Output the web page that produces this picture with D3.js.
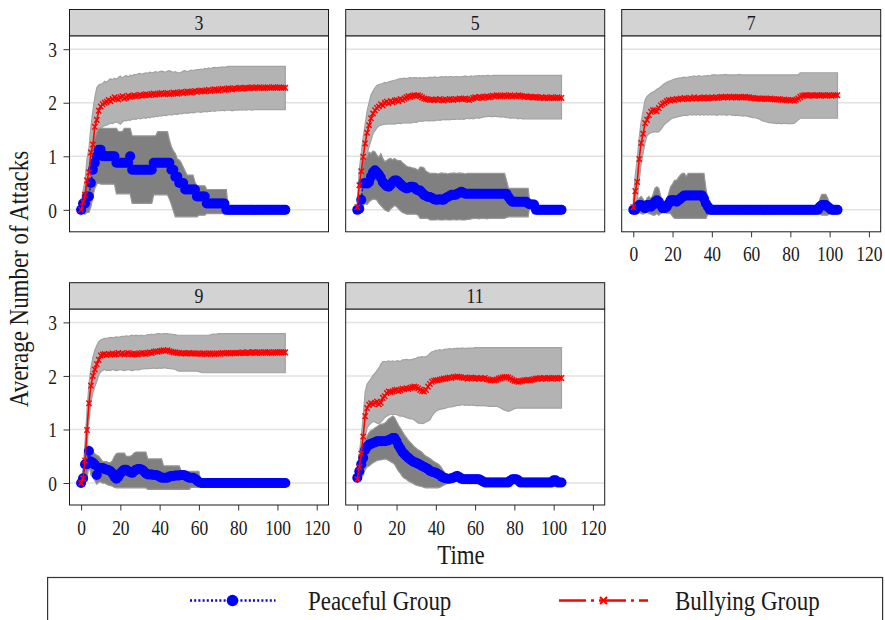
<!DOCTYPE html>
<html><head><meta charset="utf-8">
<script src="https://cdn.jsdelivr.net/npm/d3@7"></script>
<style>
body{margin:0;background:#fff}
text{font-family:"Liberation Serif","Times New Roman",serif;fill:#1a1a1a}
</style></head>
<body><svg id="c" width="885" height="620"></svg>
<script>
// ---------------- data ----------------
const times = d3.range(0, 105);
const panelLabels = ["3", "5", "7", "9", "11"];
const xTicks = [0, 20, 40, 60, 80, 100, 120];
const yTicks = [0, 1, 2, 3];
const seriesNames = ["Peaceful Group", "Bullying Group"];

// group size 3
const bully3 = [0.00,0.15,0.28,0.55,0.70,1.07,1.22,1.55,1.68,1.85, 1.93,1.97,2.00,2.02,2.05,2.03,2.07,2.10,2.08,2.06, 2.10,2.12,2.08,2.10,2.13,2.11,2.12,2.14,2.12,2.13, 2.15,2.13,2.14,2.16,2.15,2.14,2.16,2.17,2.15,2.16, 2.17,2.18,2.16,2.17,2.18,2.16,2.17,2.19,2.18,2.17, 2.19,2.20,2.18,2.19,2.21,2.20,2.19,2.21,2.22,2.20, 2.22,2.23,2.22,2.21,2.23,2.24,2.22,2.23,2.25,2.24, 2.23,2.25,2.26,2.24,2.25,2.27,2.26,2.25,2.27,2.26, 2.27,2.28,2.26,2.27,2.28,2.27,2.28,2.29,2.27,2.28, 2.28,2.29,2.28,2.27,2.28,2.29,2.28,2.28,2.29,2.28, 2.28,2.29,2.28,2.28,2.28];
const bully3Hi = [0.10,0.35,0.55,0.95,1.15,1.55,1.85,2.10,2.28,2.33, 2.35,2.36,2.40,2.38,2.42,2.45,2.43,2.46,2.44,2.47, 2.50,2.46,2.49,2.51,2.48,2.52,2.50,2.53,2.52,2.54, 2.55,2.53,2.55,2.56,2.55,2.57,2.56,2.57,2.58,2.57, 2.58,2.59,2.58,2.57,2.59,2.60,2.58,2.57,2.58,2.56, 2.56,2.57,2.59,2.60,2.58,2.59,2.61,2.60,2.61,2.62, 2.62,2.63,2.62,2.64,2.63,2.65,2.64,2.65,2.66,2.65, 2.66,2.66,2.67,2.66,2.67,2.68,2.68,2.68,2.68,2.68, 2.68,2.68,2.68,2.68,2.68,2.68,2.68,2.68,2.68,2.68, 2.68,2.68,2.68,2.68,2.68,2.68,2.68,2.68,2.68,2.68, 2.68,2.68,2.68,2.68,2.68];
const bully3Lo = [-0.08,-0.02,0.05,0.20,0.35,0.65,0.85,1.05,1.35,1.45, 1.50,1.55,1.57,1.58,1.60,1.62,1.61,1.63,1.64,1.62, 1.60,1.64,1.67,1.66,1.68,1.67,1.69,1.70,1.69,1.71, 1.70,1.71,1.72,1.71,1.73,1.72,1.74,1.73,1.75,1.74, 1.76,1.75,1.77,1.76,1.77,1.78,1.77,1.78,1.79,1.78, 1.80,1.79,1.80,1.81,1.80,1.81,1.82,1.81,1.82,1.83, 1.83,1.82,1.83,1.84,1.83,1.84,1.84,1.85,1.84,1.85, 1.85,1.85,1.86,1.85,1.86,1.86,1.86,1.85,1.86,1.86, 1.86,1.87,1.86,1.87,1.86,1.87,1.87,1.86,1.87,1.87, 1.87,1.87,1.87,1.87,1.87,1.87,1.87,1.87,1.87,1.87, 1.87,1.87,1.87,1.87,1.87];
const peace3 = [0,0.12,0.12,0.25,0.25,0.5,0.75,0.88,1,1.12, 1.12,1,1,1,1,1,1,1,0.88,0.88, 0.88,0.88,0.88,0.88,0.88,1,0.75,0.75,0.75,0.75, 0.75,0.75,0.75,0.75,0.75,0.75,0.75,0.88,0.88,0.88, 0.88,0.88,0.88,0.88,0.88,0.88,0.75,0.75,0.62,0.62, 0.5,0.5,0.5,0.38,0.38,0.38,0.38,0.38,0.38,0.25, 0.25,0.25,0.25,0.25,0.12,0.12,0.12,0.12,0.12,0.12, 0.12,0.12,0.12,0.12,0,0,0,0,0,0, 0,0,0,0,0,0,0,0,0,0, 0,0,0,0,0,0,0,0,0,0, 0,0,0,0,0];
const peace3Hi = [0.05,0.3,0.35,0.55,0.6,0.95,1.2,1.35,1.45,1.52, 1.52,1.52,1.52,1.52,1.52,1.52,1.52,1.52,1.52,1.46, 1.46,1.46,1.52,1.52,1.52,1.52,1.38,1.38,1.38,1.38, 1.38,1.38,1.38,1.38,1.38,1.38,1.38,1.38,1.38,1.46, 1.46,1.46,1.46,1.46,1.46,1.3,1.18,1.1,1.05,0.95, 0.93,0.88,0.8,0.72,0.65,0.65,0.65,0.65,0.52,0.45, 0.45,0.45,0.45,0.45,0.38,0.38,0.38,0.38,0.38,0.38, 0.38,0.38,0.38,0.38,0.38,0,0,0,0,0, 0,0,0,0,0,0,0,0,0,0, 0,0,0,0,0,0,0,0,0,0, 0,0,0,0,0];
const peace3Lo = [-0.05,-0.05,-0.08,-0.05,-0.05,0.05,0.25,0.4,0.48,0.5, 0.48,0.48,0.48,0.48,0.48,0.48,0.48,0.48,0.3,0.3, 0.3,0.3,0.3,0.3,0.3,0.3,0.12,0.12,0.12,0.12, 0.12,0.12,0.12,0.12,0.12,0.12,0.12,0.28,0.28,0.28, 0.28,0.28,0.28,0.28,0.28,0.2,0.1,-0.02,-0.13,-0.13, -0.13,-0.13,-0.13,-0.13,-0.13,-0.13,-0.13,-0.13,-0.13,-0.13, -0.1,-0.1,-0.1,-0.1,-0.07,-0.07,-0.07,-0.07,-0.07,-0.07, -0.07,-0.07,-0.07,-0.07,-0.07,0,0,0,0,0, 0,0,0,0,0,0,0,0,0,0, 0,0,0,0,0,0,0,0,0,0, 0,0,0,0,0];

// group size 5
const bully5 = [0.05,0.46,0.72,0.99,1.24,1.44,1.58,1.71,1.80,1.86, 1.90,1.93,1.97,1.95,2.00,2.02,1.99,2.03,2.01,2.04, 2.05,2.03,2.07,2.05,2.08,2.10,2.12,2.11,2.13,2.14, 2.13,2.14,2.12,2.10,2.08,2.07,2.06,2.05,2.06,2.05, 2.06,2.05,2.07,2.05,2.04,2.06,2.05,2.07,2.06,2.05, 2.07,2.06,2.08,2.07,2.07,2.08,2.06,2.05,2.07,2.09, 2.10,2.09,2.11,2.10,2.09,2.11,2.12,2.10,2.11,2.13, 2.12,2.14,2.13,2.12,2.13,2.14,2.12,2.13,2.14,2.12, 2.13,2.12,2.14,2.13,2.12,2.11,2.12,2.11,2.11,2.10, 2.10,2.11,2.10,2.09,2.10,2.09,2.10,2.09,2.09,2.10, 2.09,2.09,2.10,2.09,2.09];
const bully5Hi = [0.15,0.75,1.05,1.35,1.60,1.85,2.00,2.15,2.22,2.28, 2.32,2.34,2.35,2.36,2.38,2.37,2.39,2.40,2.41,2.42, 2.43,2.44,2.45,2.45,2.46,2.45,2.46,2.47,2.46,2.47, 2.47,2.46,2.47,2.46,2.47,2.46,2.47,2.48,2.47,2.48, 2.48,2.47,2.48,2.49,2.48,2.49,2.48,2.49,2.49,2.48, 2.49,2.49,2.48,2.49,2.49,2.50,2.49,2.49,2.50,2.49, 2.50,2.50,2.51,2.50,2.51,2.50,2.51,2.51,2.50,2.51, 2.51,2.51,2.51,2.51,2.51,2.51,2.51,2.51,2.51,2.51, 2.51,2.51,2.51,2.51,2.51,2.51,2.51,2.51,2.51,2.51, 2.51,2.51,2.51,2.51,2.51,2.51,2.51,2.51,2.51,2.51, 2.51,2.51,2.51,2.51,2.51];
const bully5Lo = [-0.05,0.17,0.40,0.65,0.90,1.05,1.18,1.30,1.42,1.48, 1.53,1.57,1.58,1.59,1.60,1.60,1.61,1.60,1.61,1.60, 1.61,1.62,1.61,1.62,1.63,1.62,1.63,1.62,1.63,1.64, 1.63,1.65,1.66,1.65,1.66,1.67,1.66,1.66,1.67,1.66, 1.67,1.68,1.67,1.68,1.69,1.68,1.69,1.68,1.69,1.69, 1.69,1.70,1.69,1.70,1.69,1.70,1.71,1.70,1.71,1.70, 1.71,1.72,1.71,1.72,1.73,1.74,1.74,1.75,1.74,1.74, 1.75,1.74,1.74,1.73,1.74,1.73,1.72,1.72,1.71,1.72, 1.71,1.71,1.70,1.71,1.70,1.70,1.70,1.70,1.70,1.70, 1.70,1.70,1.70,1.70,1.70,1.70,1.70,1.70,1.70,1.70, 1.70,1.70,1.70,1.70,1.70];
const peace5 = [0.00,0.02,0.19,0.49,0.50,0.49,0.52,0.62,0.70,0.74, 0.70,0.66,0.60,0.52,0.48,0.44,0.43,0.47,0.52,0.55, 0.55,0.52,0.48,0.44,0.42,0.40,0.41,0.43,0.43,0.42, 0.38,0.36,0.36,0.32,0.28,0.26,0.24,0.24,0.22,0.20, 0.19,0.19,0.20,0.19,0.19,0.22,0.24,0.26,0.28,0.28, 0.28,0.30,0.32,0.34,0.32,0.30,0.30,0.30,0.30,0.30, 0.30,0.30,0.30,0.30,0.30,0.30,0.30,0.30,0.30,0.30, 0.30,0.30,0.30,0.30,0.30,0.30,0.30,0.24,0.19,0.15, 0.15,0.15,0.15,0.15,0.15,0.15,0.15,0.12,0.10,0.10, 0.10,0,0,0,0,0,0,0,0,0, 0,0,0,0,0];
const peace5Hi = [0.02,0.10,0.45,0.90,0.95,1.00,1.08,1.05,1.10,1.08, 1.02,0.98,1.05,0.96,0.90,0.92,0.95,0.96,0.93,0.96, 0.93,0.92,0.92,0.88,0.85,0.82,0.80,0.80,0.78,0.78, 0.76,0.74,0.80,0.80,0.78,0.72,0.70,0.68,0.68,0.68, 0.68,0.67,0.68,0.69,0.68,0.68,0.67,0.68,0.68,0.69, 0.68,0.68,0.69,0.68,0.68,0.67,0.68,0.68,0.68,0.68, 0.68,0.68,0.68,0.68,0.68,0.68,0.68,0.68,0.68,0.68, 0.68,0.68,0.68,0.68,0.68,0.68,0.55,0.40,0.40,0.40, 0.40,0.40,0.40,0.40,0.40,0.40,0.40,0.40,0.10,0.10, 0.10,0,0,0,0,0,0,0,0,0, 0,0,0,0,0];
const peace5Lo = [-0.02,-0.05,-0.05,0.08,0.12,0.10,0.15,0.18,0.20,0.20, 0.18,0.12,0.08,0.04,0.00,-0.02,-0.03,0.02,0.05,0.08, 0.06,0.02,-0.02,-0.05,-0.06,-0.08,-0.08,-0.08,-0.08,-0.08, -0.08,-0.10,-0.16,-0.16,-0.16,-0.16,-0.16,-0.19,-0.19,-0.19, -0.19,-0.18,-0.19,-0.19,-0.19,-0.18,-0.19,-0.19,-0.19,-0.18, -0.19,-0.19,-0.18,-0.19,-0.19,-0.19,-0.18,-0.18,-0.17,-0.16, -0.16,-0.16,-0.17,-0.16,-0.16,-0.16,-0.17,-0.16,-0.16,-0.16, -0.16,-0.16,-0.16,-0.16,-0.16,-0.16,-0.14,-0.13,-0.13,-0.13, -0.13,-0.13,-0.13,-0.13,-0.13,-0.13,-0.13,-0.13,0.10,0.10, 0.10,0,0,0,0,0,0,0,0,0, 0,0,0,0,0];

// group size 7
const bully7 = [0.05,0.35,0.52,0.95,1.25,1.42,1.62,1.68,1.77,1.83, 1.86,1.86,1.84,1.90,1.95,1.98,2.00,2.03,2.05,2.04, 2.06,2.05,2.07,2.06,2.08,2.07,2.09,2.08,2.07,2.09, 2.08,2.10,2.08,2.09,2.08,2.09,2.10,2.09,2.08,2.09, 2.10,2.09,2.10,2.09,2.10,2.11,2.10,2.11,2.10,2.11, 2.10,2.11,2.10,2.10,2.11,2.10,2.10,2.11,2.10,2.10, 2.09,2.09,2.08,2.08,2.08,2.07,2.08,2.08,2.07,2.07, 2.08,2.07,2.06,2.06,2.07,2.06,2.05,2.06,2.05,2.05, 2.04,2.05,2.04,2.06,2.08,2.11,2.13,2.14,2.14,2.13, 2.14,2.14,2.13,2.14,2.14,2.13,2.14,2.14,2.13,2.14, 2.14,2.13,2.14,2.14,2.14];
const bully7Hi = [0.20,0.65,0.95,1.35,1.65,1.85,2.05,2.12,2.15,2.18, 2.20,2.22,2.25,2.27,2.30,2.33,2.36,2.38,2.40,2.41, 2.43,2.44,2.45,2.46,2.46,2.47,2.48,2.47,2.48,2.49, 2.49,2.50,2.49,2.50,2.50,2.49,2.50,2.50,2.51,2.50, 2.52,2.52,2.52,2.51,2.52,2.52,2.52,2.53,2.52,2.52, 2.52,2.52,2.52,2.52,2.53,2.52,2.52,2.52,2.52,2.52, 2.52,2.52,2.52,2.52,2.52,2.52,2.52,2.52,2.52,2.52, 2.52,2.52,2.52,2.52,2.52,2.52,2.52,2.52,2.52,2.52, 2.52,2.52,2.52,2.52,2.52,2.56,2.56,2.56,2.56,2.56, 2.56,2.56,2.56,2.56,2.56,2.56,2.56,2.56,2.56,2.56, 2.56,2.56,2.56,2.56,2.56];
const bully7Lo = [-0.05,0.05,0.15,0.55,0.85,1.05,1.25,1.38,1.42,1.44, 1.45,1.46,1.45,1.46,1.50,1.55,1.60,1.63,1.66,1.69, 1.71,1.72,1.73,1.74,1.75,1.76,1.77,1.76,1.77,1.78, 1.77,1.78,1.77,1.78,1.77,1.78,1.77,1.78,1.77,1.78, 1.77,1.78,1.77,1.77,1.78,1.77,1.78,1.77,1.77,1.78, 1.77,1.77,1.76,1.77,1.76,1.76,1.75,1.76,1.75,1.74, 1.73,1.72,1.72,1.71,1.70,1.68,1.66,1.65,1.64,1.63, 1.63,1.62,1.62,1.61,1.62,1.61,1.61,1.62,1.61,1.61, 1.61,1.61,1.62,1.65,1.68,1.71,1.71,1.71,1.71,1.71, 1.71,1.71,1.71,1.71,1.71,1.71,1.71,1.71,1.71,1.71, 1.71,1.71,1.71,1.71,1.71];
const peace7 = [0,0,0.06,0.09,0.09,0.06,0.03,0.09,0.09,0.06, 0.09,0.15,0.18,0.15,0.09,0.03,0.03,0.06,0.12,0.18, 0.18,0.18,0.15,0.18,0.21,0.24,0.27,0.27,0.27,0.27, 0.27,0.27,0.27,0.27,0.27,0.27,0.21,0.12,0.06,0, 0,0,0,0,0,0,0,0,0,0, 0,0,0,0,0,0,0,0,0,0, 0,0,0,0,0,0,0,0,0,0, 0,0,0,0,0,0,0,0,0,0, 0,0,0,0,0,0,0,0,0,0, 0,0,0,0,0,0.06,0.09,0.09,0.09,0.06, 0.03,0,0,0,0];
const peace7Hi = [0,0,0.15,0.22,0.25,0.20,0.12,0.22,0.25,0.20, 0.28,0.40,0.43,0.40,0.25,0.10,0.10,0.18,0.30,0.43, 0.48,0.55,0.55,0.60,0.65,0.68,0.68,0.62,0.68,0.68, 0.68,0.68,0.68,0.68,0.68,0.68,0.68,0.40,0.20,0, 0,0,0,0,0,0,0,0,0,0, 0,0,0,0,0,0,0,0,0,0, 0,0,0,0,0,0,0,0,0,0, 0,0,0,0,0,0,0,0,0,0, 0,0,0,0,0,0,0,0,0,0, 0,0,0,0,0,0.20,0.29,0.29,0.29,0.22, 0.12,0,0,0,0];
const peace7Lo = [0,0,-0.03,-0.04,-0.07,-0.08,-0.06,-0.04,-0.07,-0.08, -0.10,-0.10,-0.07,-0.10,-0.07,-0.04,-0.04,-0.06,-0.06,-0.07, -0.12,-0.16,-0.16,-0.16,-0.16,-0.16,-0.16,-0.16,-0.16,-0.16, -0.16,-0.16,-0.16,-0.16,-0.16,-0.16,-0.16,-0.16,-0.08,0, 0,0,0,0,0,0,0,0,0,0, 0,0,0,0,0,0,0,0,0,0, 0,0,0,0,0,0,0,0,0,0, 0,0,0,0,0,0,0,0,0,0, 0,0,0,0,0,0,0,0,0,0, 0,0,0,0,0,-0.08,-0.10,-0.10,-0.10,-0.10, -0.06,0,0,0,0];

// group size 9
const bully9 = [0.00,0.09,0.42,0.99,1.49,1.82,2.00,2.12,2.22,2.30, 2.38,2.40,2.41,2.39,2.41,2.40,2.42,2.40,2.41,2.43, 2.41,2.42,2.40,2.42,2.43,2.41,2.40,2.42,2.41,2.40, 2.42,2.43,2.42,2.41,2.43,2.44,2.43,2.45,2.46,2.45, 2.46,2.47,2.48,2.47,2.48,2.46,2.45,2.44,2.44,2.43, 2.43,2.42,2.43,2.42,2.42,2.43,2.42,2.42,2.42,2.42, 2.42,2.41,2.42,2.42,2.41,2.42,2.42,2.42,2.41,2.42, 2.42,2.42,2.43,2.42,2.43,2.43,2.42,2.43,2.43,2.43, 2.43,2.43,2.44,2.43,2.43,2.44,2.43,2.44,2.44,2.43, 2.44,2.44,2.43,2.44,2.44,2.44,2.44,2.43,2.44,2.44, 2.44,2.44,2.44,2.44,2.44];
const bully9Hi = [0.05,0.25,0.75,1.35,1.85,2.15,2.35,2.48,2.57,2.64, 2.67,2.69,2.70,2.70,2.71,2.72,2.71,2.72,2.73,2.72, 2.73,2.74,2.74,2.75,2.74,2.75,2.76,2.75,2.76,2.75, 2.76,2.76,2.75,2.76,2.77,2.77,2.78,2.77,2.78,2.79, 2.79,2.78,2.79,2.79,2.79,2.78,2.78,2.77,2.77,2.76, 2.76,2.76,2.76,2.76,2.76,2.76,2.76,2.76,2.76,2.76, 2.76,2.76,2.76,2.76,2.76,2.76,2.77,2.78,2.78,2.78, 2.79,2.79,2.79,2.79,2.79,2.79,2.79,2.79,2.79,2.79, 2.79,2.79,2.79,2.79,2.79,2.79,2.79,2.79,2.79,2.79, 2.79,2.79,2.79,2.79,2.79,2.79,2.79,2.79,2.79,2.79, 2.79,2.79,2.79,2.79,2.79];
const bully9Lo = [-0.05,-0.05,0.10,0.65,1.15,1.50,1.68,1.80,1.90,2.02, 2.08,2.10,2.12,2.10,2.11,2.10,2.12,2.11,2.10,2.11, 2.12,2.11,2.10,2.11,2.12,2.11,2.10,2.11,2.12,2.11, 2.12,2.13,2.13,2.14,2.13,2.14,2.14,2.15,2.14,2.14, 2.15,2.14,2.15,2.15,2.14,2.14,2.13,2.13,2.12,2.10, 2.09,2.09,2.09,2.09,2.09,2.09,2.09,2.09,2.09,2.09, 2.08,2.07,2.06,2.06,2.06,2.06,2.06,2.06,2.06,2.06, 2.06,2.06,2.06,2.06,2.06,2.06,2.06,2.06,2.06,2.06, 2.06,2.06,2.06,2.06,2.06,2.06,2.06,2.06,2.06,2.06, 2.06,2.06,2.06,2.06,2.06,2.06,2.06,2.06,2.06,2.06, 2.06,2.06,2.06,2.06,2.06];
const peace9 = [0,0.09,0.35,0.35,0.60,0.40,0.38,0.34,0.15,0.28, 0.28,0.28,0.26,0.25,0.24,0.22,0.18,0.12,0.08,0.12, 0.18,0.22,0.25,0.25,0.22,0.20,0.19,0.22,0.25,0.26, 0.26,0.25,0.22,0.18,0.16,0.16,0.16,0.15,0.15,0.14, 0.12,0.10,0.10,0.10,0.10,0.12,0.13,0.13,0.14,0.14, 0.14,0.15,0.15,0.14,0.12,0.10,0.10,0.10,0.08,0.05, 0.02,0,0,0,0,0,0,0,0,0, 0,0,0,0,0,0,0,0,0,0, 0,0,0,0,0,0,0,0,0,0, 0,0,0,0,0,0,0,0,0,0, 0,0,0,0,0];
const peace9Hi = [0.02,0.25,0.55,0.65,0.70,0.62,0.58,0.55,0.52,0.50, 0.45,0.40,0.40,0.40,0.38,0.38,0.42,0.50,0.55,0.56, 0.56,0.56,0.56,0.50,0.50,0.50,0.52,0.56,0.58,0.58, 0.58,0.58,0.58,0.58,0.45,0.45,0.45,0.45,0.45,0.45, 0.45,0.45,0.32,0.32,0.32,0.32,0.32,0.32,0.32,0.32, 0.32,0.22,0.22,0.22,0.22,0.22,0.22,0.22,0.22,0.22, 0.22,0,0,0,0,0,0,0,0,0, 0,0,0,0,0,0,0,0,0,0, 0,0,0,0,0,0,0,0,0,0, 0,0,0,0,0,0,0,0,0,0, 0,0,0,0,0];
const peace9Lo = [-0.02,-0.05,0.10,0.05,0.35,0.15,0.10,0.05,-0.02,0.02, 0.02,0.00,0.00,-0.02,-0.04,-0.05,-0.06,-0.08,-0.09,-0.09, -0.09,-0.09,-0.09,-0.09,-0.09,-0.09,-0.09,-0.09,-0.09,-0.09, -0.09,-0.09,-0.09,-0.09,-0.12,-0.12,-0.12,-0.12,-0.12,-0.12, -0.12,-0.12,-0.12,-0.12,-0.12,-0.12,-0.12,-0.12,-0.12,-0.12, -0.12,-0.12,-0.12,-0.12,-0.12,-0.12,-0.08,-0.08,-0.08,-0.08, -0.08,0,0,0,0,0,0,0,0,0, 0,0,0,0,0,0,0,0,0,0, 0,0,0,0,0,0,0,0,0,0, 0,0,0,0,0,0,0,0,0,0, 0,0,0,0,0];

// group size 11
const bully11 = [0.07,0.30,0.55,0.87,1.25,1.40,1.46,1.49,1.47,1.50, 1.52,1.47,1.50,1.59,1.62,1.68,1.71,1.70,1.71,1.73, 1.74,1.72,1.74,1.76,1.75,1.77,1.76,1.78,1.79,1.80, 1.79,1.77,1.74,1.72,1.71,1.74,1.80,1.85,1.89,1.91, 1.92,1.92,1.93,1.94,1.95,1.95,1.96,1.97,1.96,1.98, 1.98,1.99,1.98,1.97,1.96,1.97,1.95,1.96,1.97,1.96, 1.95,1.96,1.95,1.96,1.95,1.96,1.94,1.93,1.92,1.93, 1.92,1.93,1.95,1.96,1.97,1.98,1.98,1.97,1.95,1.93, 1.91,1.90,1.89,1.90,1.91,1.92,1.92,1.93,1.92,1.93, 1.94,1.95,1.95,1.96,1.95,1.96,1.95,1.96,1.96,1.95, 1.96,1.96,1.95,1.96,1.96];
const bully11Hi = [0.15,0.55,0.85,1.25,1.70,1.85,1.90,1.95,2.01,2.05, 2.10,2.15,2.22,2.27,2.27,2.27,2.28,2.27,2.28,2.27, 2.28,2.28,2.27,2.30,2.30,2.31,2.30,2.30,2.31,2.32, 2.33,2.35,2.35,2.36,2.35,2.36,2.38,2.42,2.45,2.46, 2.48,2.48,2.49,2.48,2.49,2.50,2.50,2.51,2.50,2.51, 2.51,2.52,2.51,2.52,2.52,2.51,2.52,2.52,2.52,2.52, 2.53,2.53,2.53,2.53,2.53,2.53,2.53,2.53,2.53,2.53, 2.53,2.53,2.53,2.53,2.53,2.53,2.53,2.53,2.53,2.53, 2.53,2.53,2.53,2.53,2.53,2.53,2.53,2.53,2.53,2.53, 2.53,2.53,2.53,2.53,2.53,2.53,2.53,2.53,2.53,2.53, 2.53,2.53,2.53,2.53,2.53];
const bully11Lo = [0.00,0.10,0.25,0.55,0.85,1.03,1.08,1.12,1.15,1.14, 1.12,1.11,1.14,1.18,1.22,1.25,1.27,1.28,1.28,1.28, 1.28,1.26,1.25,1.25,1.24,1.22,1.21,1.20,1.20,1.18, 1.15,1.12,1.12,1.11,1.12,1.14,1.16,1.18,1.25,1.30, 1.34,1.36,1.38,1.38,1.39,1.40,1.41,1.42,1.42,1.43, 1.44,1.45,1.45,1.46,1.46,1.45,1.46,1.45,1.46,1.45, 1.45,1.44,1.45,1.44,1.45,1.44,1.44,1.43,1.43,1.43, 1.43,1.43,1.42,1.40,1.38,1.36,1.35,1.34,1.35,1.37, 1.39,1.40,1.40,1.40,1.40,1.40,1.40,1.40,1.40,1.40, 1.40,1.40,1.40,1.40,1.40,1.40,1.40,1.40,1.40,1.40, 1.40,1.40,1.40,1.40,1.40];
const peace11 = [0.10,0.22,0.35,0.47,0.62,0.68,0.72,0.73,0.75,0.76, 0.78,0.78,0.78,0.78,0.78,0.79,0.80,0.82,0.84,0.84, 0.78,0.70,0.64,0.58,0.54,0.50,0.47,0.44,0.41,0.39, 0.38,0.36,0.34,0.32,0.30,0.28,0.26,0.23,0.21,0.20, 0.19,0.17,0.15,0.12,0.10,0.09,0.08,0.08,0.09,0.10, 0.12,0.13,0.11,0.08,0.07,0.07,0.07,0.07,0.07,0.07, 0.07,0.07,0.07,0.05,0.03,0.01,0.01,0.01,0.01,0.01, 0.01,0.01,0.01,0.01,0.01,0.01,0.01,0.01,0.05,0.07, 0.07,0.07,0.05,0.01,0.01,0.01,0.01,0.01,0.01,0.01, 0.01,0.01,0.01,0.01,0.01,0.01,0.01,0.01,0.01,0.01, 0.05,0.05,0.01,0.01,0.01];
const peace11Hi = [0.15,0.35,0.50,0.62,0.78,0.88,0.94,0.98,1.00,1.03, 1.05,1.08,1.10,1.10,1.12,1.15,1.20,1.22,1.25,1.22, 1.15,1.08,1.02,0.96,0.90,0.85,0.80,0.76,0.72,0.68, 0.65,0.62,0.60,0.57,0.53,0.50,0.48,0.46,0.43,0.40, 0.38,0.36,0.33,0.28,0.22,0.18,0.15,0.14,0.15,0.17, 0.20,0.22,0.18,0.14,0.12,0.12,0.12,0.12,0.12,0.12, 0.12,0.12,0.12,0.09,0.05,0.03,0.03,0.03,0.03,0.03, 0.03,0.03,0.03,0.03,0.03,0.03,0.03,0.03,0.10,0.13, 0.13,0.13,0.10,0.03,0.03,0.03,0.03,0.03,0.03,0.03, 0.03,0.03,0.03,0.03,0.03,0.03,0.03,0.03,0.03,0.03, 0.10,0.10,0.03,0.03,0.03];
const peace11Lo = [0.05,0.08,0.10,0.15,0.25,0.30,0.32,0.35,0.38,0.40, 0.42,0.43,0.43,0.44,0.45,0.44,0.42,0.40,0.38,0.35, 0.28,0.22,0.18,0.12,0.09,0.07,0.04,0.02,0.00,-0.02, -0.04,-0.05,-0.06,-0.07,-0.08,-0.09,-0.09,-0.09,-0.09,-0.09, -0.09,-0.09,-0.08,-0.06,-0.04,-0.02,0.00,0.01,0.02,0.03, 0.04,0.04,0.03,0.02,0.02,0.02,0.02,0.02,0.02,0.02, 0.02,0.02,0.02,0.01,0.01,0,0,0,0,0, 0,0,0,0,0,0,0,0,0,0, 0,0,0,0,0,0,0,0,0,0, 0,0,0,0,0,0,0,0,0,0, 0,0,0,0,0];

// ---------------- drawing ----------------
const svg = d3.select("#c");
const W = 259, H = 196, SH = 26.3;
const colX = [69.5, 345.7, 621.7];
const rowY = [9.5, 282.7];
const SX = 0.85; // narrow serif face

const x = d3.scaleLinear().domain([-5.9, 126]).range([0, W]);
const y = d3.scaleLinear().domain([-0.41, 3.25]).range([H, 0]);

const panels = [
  {label: panelLabels[0], col: 0, row: 0, xAxis: false, yAxis: true,  b: bully3,  bl: bully3Lo,  bh: bully3Hi,  p: peace3,  pl: peace3Lo,  ph: peace3Hi},
  {label: panelLabels[1], col: 1, row: 0, xAxis: false, yAxis: false, b: bully5,  bl: bully5Lo,  bh: bully5Hi,  p: peace5,  pl: peace5Lo,  ph: peace5Hi},
  {label: panelLabels[2], col: 2, row: 0, xAxis: true,  yAxis: false, b: bully7,  bl: bully7Lo,  bh: bully7Hi,  p: peace7,  pl: peace7Lo,  ph: peace7Hi},
  {label: panelLabels[3], col: 0, row: 1, xAxis: true,  yAxis: true,  b: bully9,  bl: bully9Lo,  bh: bully9Hi,  p: peace9,  pl: peace9Lo,  ph: peace9Hi},
  {label: panelLabels[4], col: 1, row: 1, xAxis: true,  yAxis: false, b: bully11, bl: bully11Lo, bh: bully11Hi, p: peace11, pl: peace11Lo, ph: peace11Hi}
];

const band = d3.area().x((d, i) => x(times[i])).y0(d => y(d[0])).y1(d => y(d[1]));
const line = d3.line().x((d, i) => x(times[i])).y(d => y(d));
const xMark = "M-2.6,-2.8L2.6,2.8M-2.6,2.8L2.6,-2.8";

panels.forEach((P, k) => {
  const g = svg.append("g").attr("transform", `translate(${colX[P.col]},${rowY[P.row] + SH})`);
  g.append("rect").attr("width", W).attr("height", H).attr("fill", "#fff");
  g.selectAll(".grid").data(yTicks).join("line")
    .attr("x1", 0).attr("x2", W).attr("y1", d => y(d)).attr("y2", d => y(d))
    .attr("stroke", "#e2e2e2").attr("stroke-width", 1.5);

  g.append("clipPath").attr("id", "clip" + k).append("rect").attr("width", W).attr("height", H);
  const pg = g.append("g").attr("clip-path", `url(#clip${k})`);

  pg.append("path").datum(d3.zip(P.bl, P.bh)).attr("d", band)
    .attr("fill", "#b3b3b3").attr("stroke", "#a2a2a2").attr("stroke-width", 1.2);
  pg.append("path").datum(d3.zip(P.pl, P.ph)).attr("d", band)
    .attr("fill", "#808080").attr("stroke", "#969696").attr("stroke-width", 1.2);

  pg.append("path").datum(P.p).attr("d", line).attr("fill", "none")
    .attr("stroke", "#0000ff").attr("stroke-width", 1.5).attr("stroke-dasharray", "2,2");
  pg.selectAll(".pc").data(P.p).join("circle")
    .attr("cx", (d, i) => x(times[i])).attr("cy", d => y(d)).attr("r", 5).attr("fill", "#0000ff");

  pg.append("path").datum(P.b).attr("d", line).attr("fill", "none")
    .attr("stroke", "#ff0000").attr("stroke-width", 1.6);
  pg.selectAll(".bx").data(P.b).join("path")
    .attr("transform", (d, i) => `translate(${x(times[i])},${y(d)})`)
    .attr("d", xMark).attr("stroke", "#ff0000").attr("stroke-width", 1.4).attr("fill", "none");

  g.append("rect").attr("width", W).attr("height", H).attr("fill", "none")
    .attr("stroke", "#1a1a1a").attr("stroke-width", 1);

  // strip
  g.append("rect").attr("y", -SH).attr("width", W).attr("height", SH)
    .attr("fill", "#d3d3d3").attr("stroke", "#1a1a1a").attr("stroke-width", 1);
  g.append("text").attr("transform", `translate(${W / 2},${-SH / 2 + 7}) scale(${SX},1)`)
    .attr("text-anchor", "middle").attr("font-size", 21).text(P.label);

  if (P.yAxis) {
    const ay = g.append("g").call(d3.axisLeft(y).tickValues(yTicks).tickSize(6).tickPadding(0).tickFormat(d3.format("d")));
    ay.select(".domain").remove();
    ay.selectAll(".tick line").attr("stroke", "#333");
    ay.selectAll(".tick text").attr("x", null).attr("dy", null)
      .attr("transform", `translate(-12.5,7.2) scale(${SX},1)`)
      .attr("font-size", 20.5).attr("font-family", "Liberation Serif").attr("fill", "#1a1a1a");
  }
  if (P.xAxis) {
    const ax = g.append("g").attr("transform", `translate(0,${H})`)
      .call(d3.axisBottom(x).tickValues(xTicks).tickSize(5.5).tickFormat(d3.format("d")));
    ax.select(".domain").remove();
    ax.selectAll(".tick line").attr("stroke", "#333");
    ax.selectAll(".tick text").attr("y", null).attr("dy", null)
      .attr("transform", `translate(0,29.5) scale(${SX},1)`)
      .attr("font-size", 20.5).attr("font-family", "Liberation Serif").attr("fill", "#1a1a1a");
  }
});

// axis titles
svg.append("text").attr("transform", `translate(461,564) scale(${SX},1)`)
  .attr("text-anchor", "middle").attr("font-size", 27).text("Time");
svg.append("text").attr("transform", `translate(28,279) rotate(-90) scale(${SX},1)`)
  .attr("text-anchor", "middle").attr("font-size", 27).text("Average Number of Attacks");

// legend
const lg = svg.append("g");
lg.append("rect").attr("x", 47.6).attr("y", 577.5).attr("width", 835).attr("height", 60)
  .attr("fill", "#fff").attr("stroke", "#333").attr("stroke-width", 1.2);
const ly = 600.5;
lg.append("line").attr("x1", 190).attr("x2", 275.5).attr("y1", ly).attr("y2", ly)
  .attr("stroke", "#0000ff").attr("stroke-width", 2.5).attr("stroke-dasharray", "2,2.2");
lg.append("circle").attr("cx", 232.5).attr("cy", ly).attr("r", 5.8).attr("fill", "#0000ff");
lg.append("text").attr("transform", `translate(308,609.5) scale(${SX},1)`)
  .attr("font-size", 27).text(seriesNames[0]);
lg.append("line").attr("x1", 559).attr("x2", 648).attr("y1", ly).attr("y2", ly)
  .attr("stroke", "#ff0000").attr("stroke-width", 2.5).attr("stroke-dasharray", "27,5,3,5");
lg.append("path").attr("transform", `translate(603.5,${ly})`)
  .attr("d", "M-3.5,-3.5L3.5,3.5M-3.5,3.5L3.5,-3.5").attr("stroke", "#ff0000").attr("stroke-width", 2);
lg.append("text").attr("transform", `translate(675,609.5) scale(${SX},1)`)
  .attr("font-size", 27).text(seriesNames[1]);
</script>
</body></html>
